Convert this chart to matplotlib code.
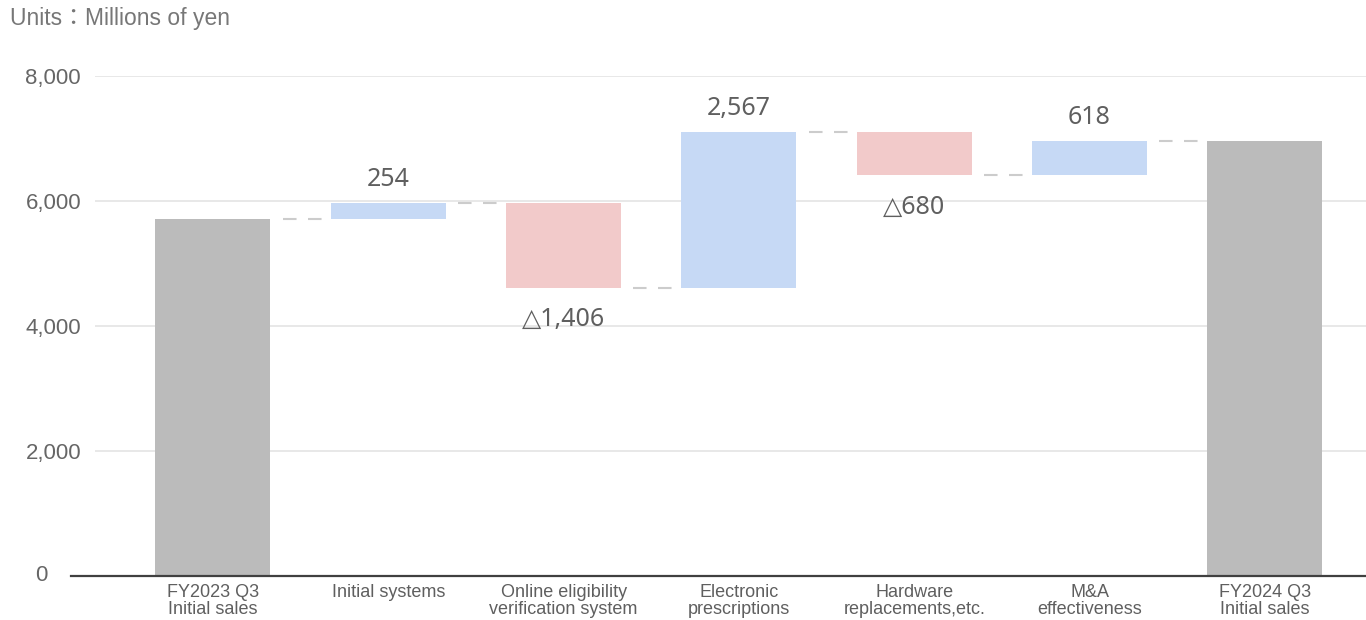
import matplotlib
matplotlib.use("Agg")
import matplotlib.pyplot as plt

categories = [
    "FY2023 Q3\nInitial sales",
    "Initial systems",
    "Online eligibility\nverification system",
    "Electronic\nprescriptions",
    "Hardware\nreplacements,etc.",
    "M&A\neffectiveness",
    "FY2024 Q3\nInitial sales",
]
start_total = 5710
# running total after each change
levels = [5965, 4610, 7112, 6418, 6968]
end_total = 6968
change_labels = ["254", "△1,406", "2,567", "△680", "618"]
yticks = [0, 2000, 4000, 6000, 8000]

GRAY = "#bbbbbb"
BLUE = "#c6d9f5"
RED = "#f2caca"
TEXT = "#5f5f5f"

fig = plt.figure(figsize=(13.66, 6.2), dpi=100)
ax = fig.add_axes([95 / 1366, 1 - 575.5 / 620, 1 - 95 / 1366, (575.5 - 76.3) / 620])

w = 0.656
n = len(categories)

# totals
ax.bar(0, start_total, width=w, color=GRAY, zorder=3)
ax.bar(n - 1, end_total, width=w, color=GRAY, zorder=3)

prev = start_total
all_levels = [start_total] + levels
for i, cur in enumerate(levels, start=1):
    up = cur > prev
    ax.bar(i, abs(cur - prev), bottom=min(cur, prev), width=w,
           color=BLUE if up else RED, zorder=3)
    dy = 17 if up else -23
    ax.annotate(change_labels[i - 1], (i, cur), xytext=(0, dy), textcoords="offset points",
                ha="center", va="center", fontsize=18, color=TEXT,
                family=["Noto Sans", "DejaVu Sans"], zorder=5)
    prev = cur

# dashed connectors between bars
for i, lvl in enumerate(all_levels):
    ax.plot([i + w / 2 + 0.07, i + 1 - w / 2 - 0.02], [lvl, lvl], color="#cccccc",
            lw=1.5, dashes=(6.5, 5.5), zorder=4)

ax.set_xlim(-0.673, 6.577)
ax.set_ylim(0, 8000)
ax.set_yticks(yticks)
ax.set_yticklabels(["" if v == 0 else f"{v:,}" for v in yticks], fontsize=16,
                   color="#666666", family="Liberation Sans")
ax.annotate("0", (0, 0), xycoords="axes fraction", xytext=(-34, 0), textcoords="offset points",
            ha="right", va="center", fontsize=16, color="#666666", family="Liberation Sans")
ax.set_xticks(range(n))
ax.set_xticklabels(categories, fontsize=13, color=TEXT, family="Liberation Sans",
                   linespacing=1.0)
ax.tick_params(axis="y", length=0, pad=10)
ax.tick_params(axis="x", length=0, pad=6)
ax.grid(axis="y", color="#e6e6e6", lw=1.3, zorder=0)
for s in ax.spines.values():
    s.set_visible(False)

# baseline, running a bit past the left edge like the source
ax.plot([-0.81, 6.577], [0, 0], color="#404040", lw=1.6, clip_on=False, zorder=6)

fig.text(10 / 1366, 1 - 18 / 620, "Units：Millions of yen", fontsize=16.5, color="#777777",
         ha="left", va="center", family=["Liberation Sans", "Noto Sans CJK JP"])

fig.savefig("out.png", dpi=100)
